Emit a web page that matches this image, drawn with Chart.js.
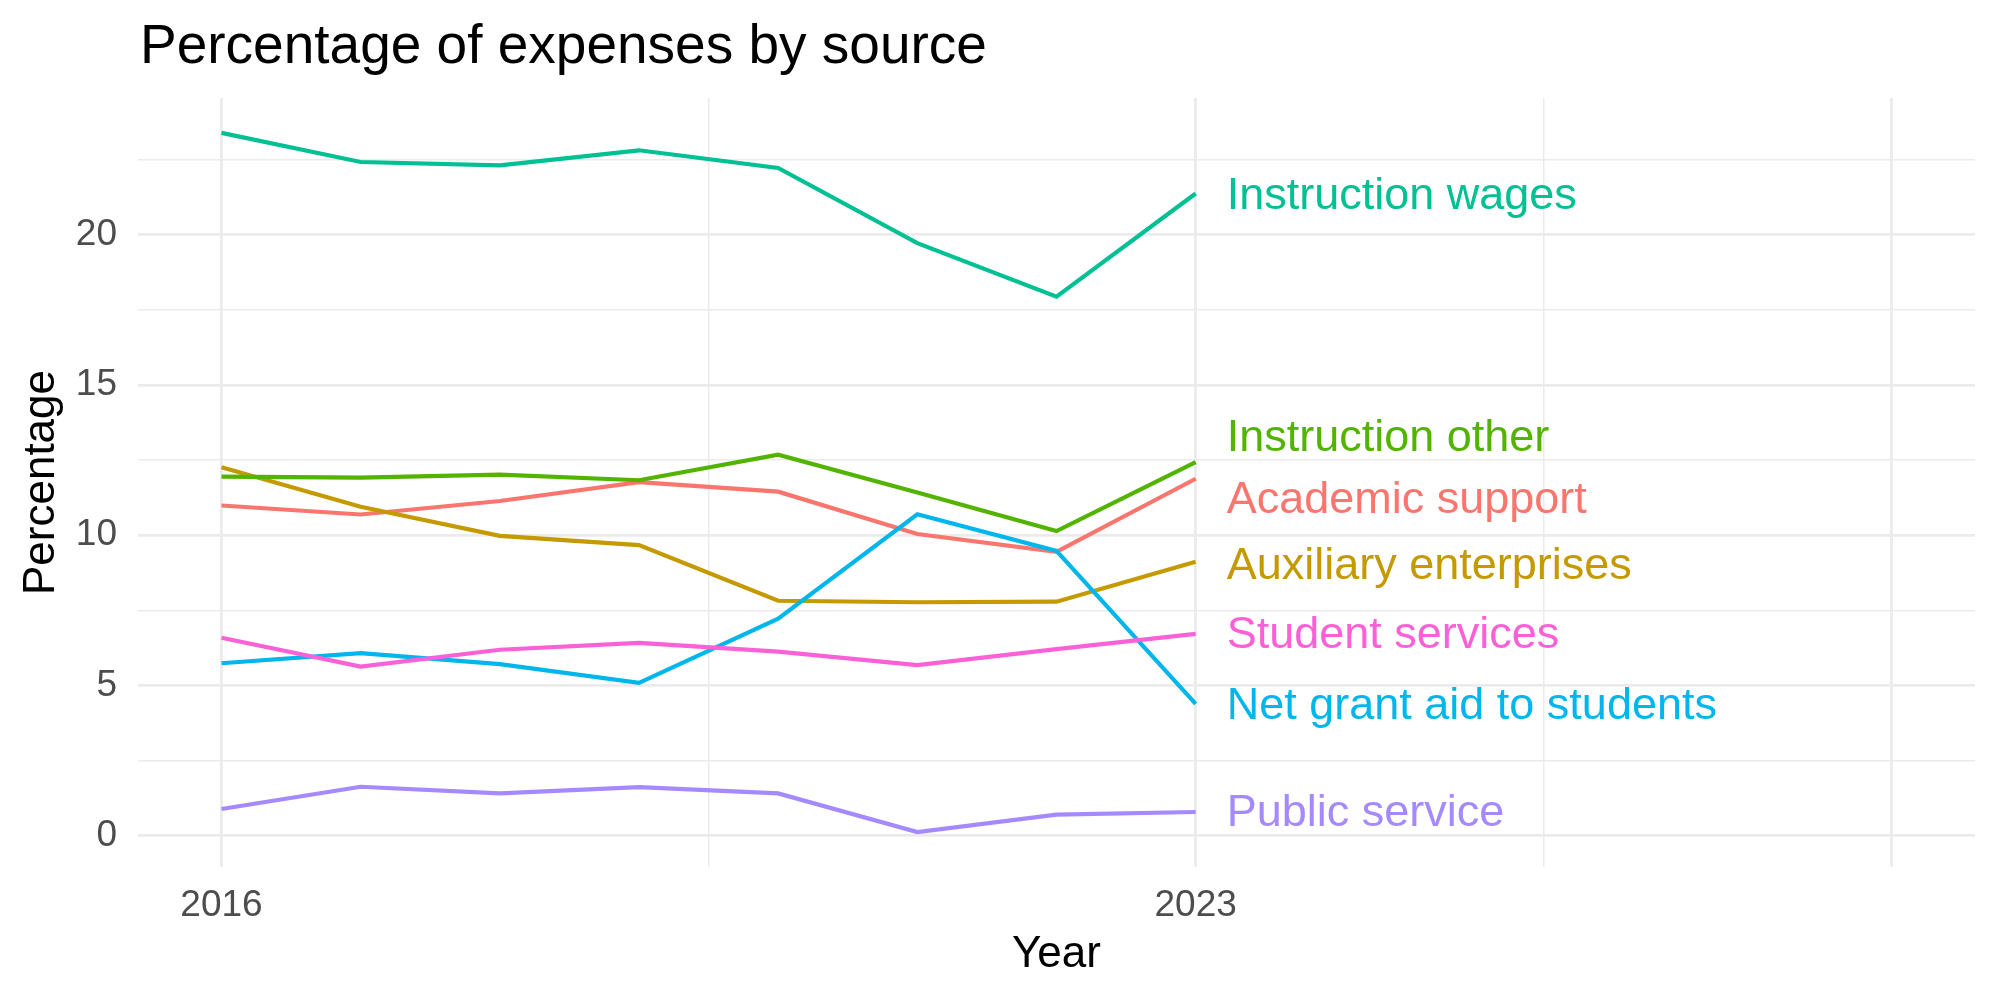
<!DOCTYPE html>
<html>
<head>
<meta charset="utf-8">
<title>Percentage of expenses by source</title>
<script src="https://cdn.jsdelivr.net/npm/chart.js@4.4.1/dist/chart.umd.min.js"></script>
<style>
  html, body { margin: 0; padding: 0; background: #ffffff; }
  #wrap { width: 2000px; height: 1000px; }
</style>
</head>
<body>
<div id="wrap"><canvas id="chart" width="2000" height="1000"></canvas></div>
<script>
// データ
const years = [2016, 2017, 2018, 2019, 2020, 2021, 2022, 2023];

const academicSupport      = [10.99, 10.69, 11.14, 11.77, 11.45, 10.04, 9.45, 11.88];
const auxiliaryEnterprises = [12.26, 10.95, 9.98, 9.67, 7.82, 7.77, 7.79, 9.12];
const instructionOther     = [11.95, 11.92, 12.02, 11.83, 12.68, 11.42, 10.14, 12.43];
const instructionWages     = [23.39, 22.42, 22.31, 22.81, 22.22, 19.72, 17.94, 21.37];
const netGrantAid          = [5.74, 6.08, 5.71, 5.09, 7.22, 10.70, 9.48, 4.39];
const publicService        = [0.89, 1.63, 1.41, 1.62, 1.41, 0.12, 0.70, 0.79];
const studentServices      = [6.59, 5.63, 6.19, 6.42, 6.13, 5.68, 6.21, 6.72];

const seriesNames = ['Academic support', 'Auxiliary enterprises', 'Instruction other',
  'Instruction wages', 'Net grant aid to students', 'Public service', 'Student services'];
const seriesValues = [academicSupport, auxiliaryEnterprises, instructionOther,
  instructionWages, netGrantAid, publicService, studentServices];

// ラベル位置（重なり回避後の値）
const labelY = [11.26, 9.06, 13.33, 21.37, 4.41, 0.83, 6.77];

// 目盛り
const xTicks = [2016, 2019.5, 2023, 2025.5, 2028];
const xTickLabels = ['2016', '2023'];
const yTicks = [0, 2.5, 5, 7.5, 10, 12.5, 15, 17.5, 20, 22.5];
const yTickLabels = ['0', '5', '10', '15', '20'];

// ggplot2 デフォルトカラー
const colors = ['#F8766D', '#C49A00', '#53B400', '#00C094', '#00B6EB', '#A58AFF', '#FB61D7'];

const FONT = '"Liberation Sans", Arial, Helvetica, sans-serif';
const GRID = '#EBEBEB';

const datasets = seriesNames.map((name, i) => ({
  label: name,
  data: years.map((yr, j) => ({ x: yr, y: seriesValues[i][j] })),
  borderColor: colors[i],
  backgroundColor: colors[i],
  borderWidth: 4.2,
  borderJoinStyle: 'miter',
  pointRadius: 0,
  tension: 0,
  fill: false,
  order: seriesNames.length - i
}));

// タイトル・軸タイトル・系列ラベル描画
const textPlugin = {
  id: 'textPlugin',
  afterDraw(chart) {
    const ctx = chart.ctx;
    const area = chart.chartArea;
    const xs = chart.scales.x;
    const ys = chart.scales.y;
    ctx.save();

    ctx.fillStyle = '#000000';
    ctx.font = `55px ${FONT}`;
    ctx.textAlign = 'left';
    ctx.textBaseline = 'alphabetic';
    ctx.fillText('Percentage of expenses by source', 140, 63);

    ctx.font = `44px ${FONT}`;
    ctx.textAlign = 'center';
    ctx.fillText('Year', (area.left + area.right) / 2, 967);

    ctx.save();
    ctx.translate(54, (area.top + area.bottom) / 2);
    ctx.rotate(-Math.PI / 2);
    ctx.fillText('Percentage', 0, 0);
    ctx.restore();

    ctx.font = `45px ${FONT}`;
    ctx.textAlign = 'left';
    ctx.textBaseline = 'middle';
    const lx = xs.getPixelForValue(years[years.length - 1]) + 31;
    seriesNames.forEach((name, i) => {
      ctx.fillStyle = colors[i];
      ctx.fillText(name, lx, ys.getPixelForValue(labelY[i]) + 3);
    });

    ctx.restore();
  }
};

new Chart(document.getElementById('chart').getContext('2d'), {
  type: 'line',
  data: { datasets: datasets },
  options: {
    responsive: false,
    animation: false,
    layout: { padding: { top: 98, right: 25, bottom: 0, left: 0 } },
    plugins: {
      legend: { display: false },
      tooltip: { enabled: false },
      title: { display: false }
    },
    scales: {
      x: {
        type: 'linear',
        min: 2015.4,
        max: 2028.6,
        afterBuildTicks: scale => { scale.ticks = xTicks.map(v => ({ value: v })); },
        afterFit: scale => { scale.height = 133; },
        border: { display: false },
        grid: {
          color: GRID,
          drawTicks: false,
          lineWidth: c => (c.tick && Number.isInteger(c.tick.value) ? 2.8 : 1.5)
        },
        ticks: {
          autoSkip: false,
          maxRotation: 0,
          padding: 17,
          color: '#4D4D4D',
          font: { family: FONT, size: 37 },
          callback: v => (xTickLabels.includes(String(v)) ? String(v) : '')
        }
      },
      y: {
        type: 'linear',
        min: -1.04,
        max: 24.55,
        afterBuildTicks: scale => { scale.ticks = yTicks.map(v => ({ value: v })); },
        afterFit: scale => { scale.width = 138; },
        border: { display: false },
        grid: {
          color: GRID,
          drawTicks: false,
          lineWidth: c => (c.tick && c.tick.value % 5 === 0 ? 2.8 : 1.5)
        },
        ticks: {
          autoSkip: false,
          padding: 21,
          color: '#4D4D4D',
          font: { family: FONT, size: 37 },
          callback: v => (yTickLabels.includes(String(v)) ? String(v) : '')
        }
      }
    }
  },
  plugins: [textPlugin]
});
</script>
</body>
</html>
